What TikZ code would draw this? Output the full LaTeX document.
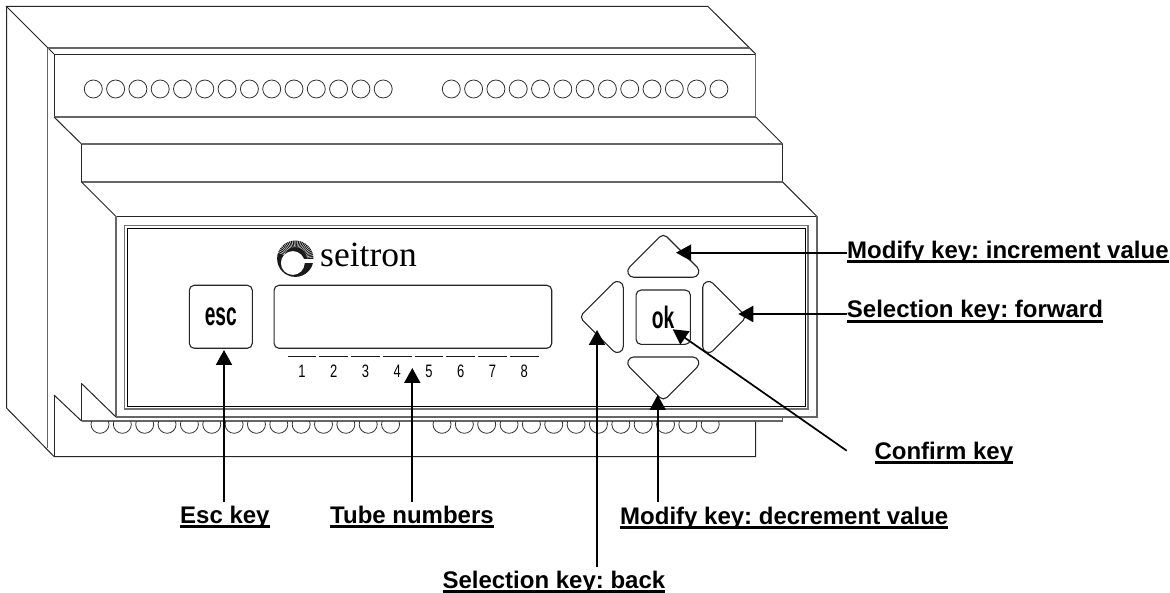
\documentclass[tikz,border=0pt]{standalone}
\usepackage{fontspec}
\setmainfont{Liberation Sans}
\newfontfamily\logofont{Liberation Serif}
\usetikzlibrary{arrows.meta}
\frenchspacing
\newcommand\ulabel[1]{\setbox0=\hbox{\bfseries #1}\rlap{\rule[-4.6pt]{\wd0}{2.7pt}}\box0}
\newcommand\narrowtext[3]{\scalebox{#1}[1]{\fontsize{#2}{#2}\selectfont #3}}
\newcommand\arrowkey[2]{%
  \begin{scope}[shift={(#1)},rotate=#2]
  \draw[keyshape] (-29.5,0) .. controls (-34.85,0) and (-37.53,-6.47) .. (-33.75,-10.25)
    -- (-3.54,-40.46) .. controls (-1.59,-42.41) and (1.59,-42.41) .. (3.54,-40.46)
    -- (33.75,-10.25) .. controls (37.53,-6.47) and (34.85,0) .. (29.5,0) -- cycle;
  \end{scope}}
\tikzset{
  x=1pt,y=-1pt,
  body/.style={line width=1pt,black!85},
  bodygray/.style={line width=1.5pt,black!60},
  panelgray/.style={line width=1.3pt,black!55},
  keyshape/.style={draw=black!85,line width=1.1pt,fill=none},
  hole/.style={line width=.8pt,black!80},
  callout/.style={line width=2pt,black,-{Triangle[length=15pt,width=16pt]}},
  lbl/.style={anchor=base west,inner sep=0pt,text height=21.5pt,font=\fontsize{24}{24}\selectfont},
  digit/.style={inner sep=0pt,anchor=center},
  seg/.style={line width=1pt,black!90},
  squarekey/.style={draw=black!85,line width=1.1pt,rounded corners=5pt,inner sep=0pt},
}
\begin{document}
\begin{tikzpicture}
\useasboundingbox (0,0) rectangle (1170,593);
\fill[white] (0,0) rectangle (1170,593);
% outer housing
\draw[body] (54,54) -- (6.5,6.5) -- (708,6.5) -- (755.7,54);
\draw[body] (6.5,6.5) -- (6.5,408) -- (54,456.5) -- (755.7,456.5) -- (755.7,421);
\draw[bodygray] (47.7,48) -- (748.5,48);
\draw[bodygray] (47.7,48) -- (47.7,448);
\draw[body] (54,54.3) -- (755.7,54.3);
\draw[body] (54,54.3) -- (54,117);
\draw[bodygray,line width=1.2pt] (755.7,54.3) -- (755.7,117);
\draw[bodygray,line width=1.2pt] (54,117) -- (755.7,117);
\draw[body] (54,117) -- (81.5,144);
\draw[body] (755.7,117) -- (782.7,144);
\draw[bodygray,line width=1.2pt] (81.5,144) -- (782.7,144);
\draw[body] (81.5,144) -- (81.5,182);
\draw[body] (782.7,144) -- (782.7,182);
\draw[bodygray,line width=1.2pt] (81.5,182) -- (782.7,182);
\draw[body] (81.5,182) -- (116,216.5);
\draw[body] (782.7,182) -- (817,216.5);
\draw[body] (116,216.5) -- (817,216.5);
\draw[bodygray,line width=1.2pt] (116,216.5) -- (116,417);
\draw[bodygray,line width=1.2pt] (817,216.5) -- (817,417) -- (116,417);
% lower steps
\draw[body] (54,395) -- (54,456.5);
\draw[body] (54,395) -- (81.5,421);
\draw[body] (81.5,383.5) -- (116,417);
\draw[body] (81.5,383.5) -- (81.5,421);
\draw[bodygray,line width=1.1pt] (81.5,421) -- (782.7,421) -- (782.7,417);
% front panel
\draw[panelgray] (124.5,225.5) rectangle (808,409);
\draw[line width=.9pt,black] (127.5,228.5) rectangle (805,406.5);
% top terminals
\foreach \i in {0,...,13} \draw[hole] (93.3+22.3*\i,89) circle[radius=9];
\foreach \i in {0,...,12} \draw[hole] (451.3+22.3*\i,89) circle[radius=9];
% bottom terminals
\begin{scope}
\clip (81.5,421.6) rectangle (760,440);
\foreach \i in {0,...,13} \draw[hole] (100+22.35*\i,424.3) circle[radius=9];
\foreach \i in {0,...,12} \draw[hole] (442+22.35*\i,424.3) circle[radius=9];
\end{scope}
% logo
\fill[black!90,even odd rule] (295.3,258.7) circle[radius=18.2] (292.8,263) circle[radius=12];
\foreach \a in {-160,-154,...,-4} \draw[white,line width=.35pt] (295.3,258.7) ++(\a:11.5) -- ++(\a:7);
\fill[white] (304,259.5) rectangle (315,262.8);
\node[anchor=base west,inner sep=0pt,font=\logofont\fontsize{35.5}{35.5}\selectfont] (logotext) at (320,266.8) {seitron};
% keys and display
\node[squarekey,minimum width=63pt,minimum height=63pt] (esckey) at (220.8,316.8)
  {\bfseries\narrowtext{.58}{33}{esc}};
\node[draw=black!85,line width=1.1pt,rounded corners=5pt,inner sep=0pt,minimum width=277.7pt,minimum height=63pt] (display) at (412.9,316.8) {};
\node[squarekey,minimum width=54.3pt,minimum height=54.3pt] (okkey) at (663.2,317.2)
  {\bfseries\narrowtext{.62}{31}{ok}};
\arrowkey{663.3,277.3}{0}
\arrowkey{663.3,357}{180}
\arrowkey{623.3,317}{90}
\arrowkey{702.7,317}{-90}
% tube scale
\foreach \i in {1,...,8} {
  \draw[seg] (287.7+31.75*\i-31.75,357) -- (316.4+31.75*\i-31.75,357);
  \node[digit] (tube\i) at (301.9+31.75*\i-31.75,371.7) {\narrowtext{.72}{18}{\i}};
}
% labels
\node[lbl] (lblUp) at (847,258.3) {\ulabel{Modify key: increment value}};
\node[lbl] (lblFwd) at (846.7,318) {\ulabel{Selection key: forward}};
\node[lbl] (lblConfirm) at (874.3,459.3) {\ulabel{Confirm key}};
\node[lbl] (lblEsc) at (180,523.5) {\ulabel{Esc key}};
\node[lbl] (lblTube) at (330,523.5) {\ulabel{Tube numbers}};
\node[lbl] (lblDown) at (620,524) {\ulabel{Modify key: decrement value}};
\node[lbl] (lblBack) at (442.3,588.3) {\ulabel{Selection key: back}};
% callouts
\coordinate (tipUp) at (676,252.7);
\coordinate (tipFwd) at (738.3,314);
\coordinate (tipOk) at (672.7,329.3);
\coordinate (endOk) at (846.7,450.7);
\coordinate (tipEsc) at (224,350);
\coordinate (tipTube) at (412.3,368);
\coordinate (tipBack) at (597,330);
\coordinate (tipDown) at (657.7,395);
\draw[callout] (lblUp.west |- tipUp) -- (tipUp);
\draw[callout] (lblFwd.west |- tipFwd) -- (tipFwd);
\draw[callout,line width=1.7pt] (endOk) -- (tipOk);
\draw[callout] (lblEsc.north -| tipEsc) -- (tipEsc);
\draw[callout] (lblTube.north -| tipTube) -- (tipTube);
\draw[callout] (lblBack.north -| tipBack) -- (tipBack);
\draw[callout] (lblDown.north -| tipDown) -- (tipDown);
\end{tikzpicture}
\end{document}
